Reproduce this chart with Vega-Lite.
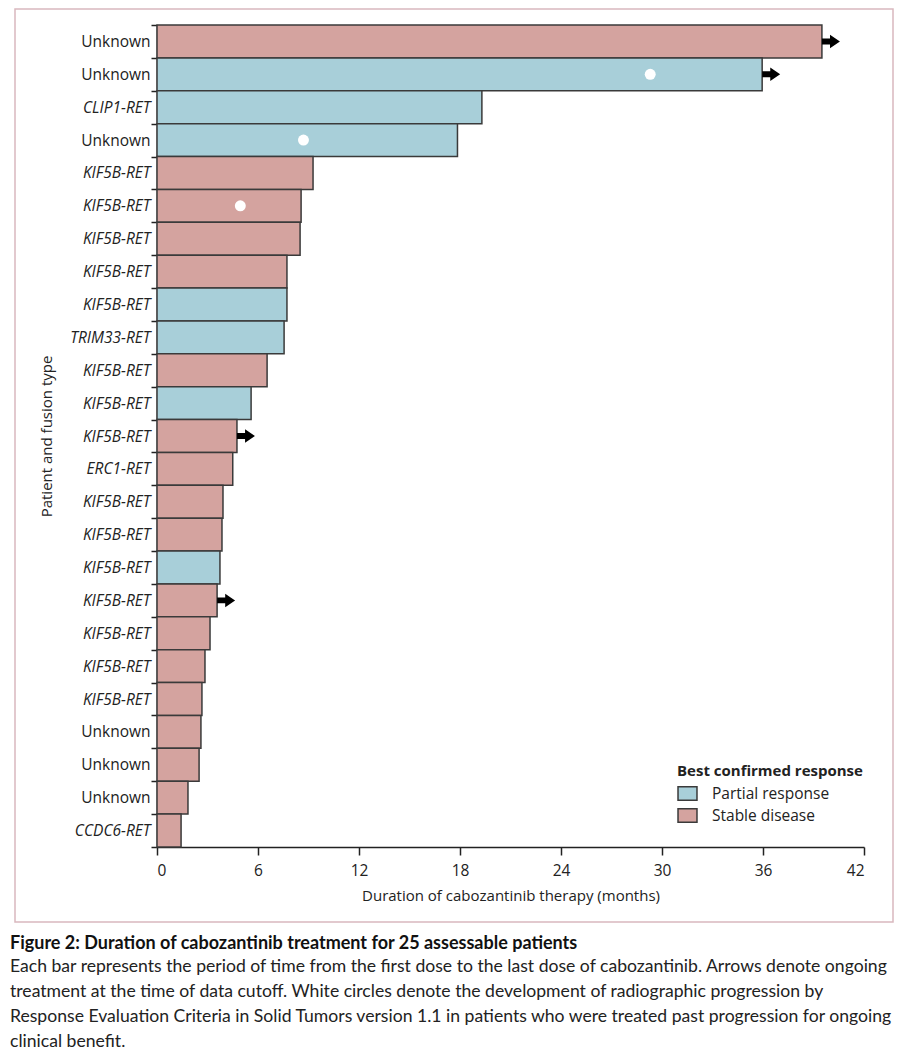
{
  "$schema": "https://vega.github.io/schema/vega-lite/v6.json",
  "width": 878,
  "height": 913,
  "autosize": {"type": "none"},
  "padding": {"left": 15, "top": 9, "right": 11, "bottom": 141},
  "background": "white",
  "config": {
    "view": {"stroke": "#d9b8be", "strokeWidth": 1.5},
    "font": "Open Sans"
  },
  "title": {
    "text": "Figure 2: Duration of cabozantinib treatment for 25 assessable patients",
    "orient": "bottom",
    "anchor": "start",
    "frame": "bounds",
    "offset": 13,
    "dx": -5,
    "font": "Lato",
    "fontSize": 18,
    "fontWeight": "bold",
    "color": "#111111",
    "subtitle": [
      "Each bar represents the period of time from the first dose to the last dose of cabozantinib. Arrows denote ongoing",
      "treatment at the time of data cutoff. White circles denote the development of radiographic progression by",
      "Response Evaluation Criteria in Solid Tumors version 1.1 in patients who were treated past progression for ongoing",
      "clinical benefit."
    ],
    "subtitleFont": "Lato",
    "subtitleFontSize": 17.6,
    "subtitleColor": "#222222",
    "subtitleLineHeight": 25,
    "subtitlePadding": 5
  },
  "data": {
    "values": [
      {"id": 1, "label": "Unknown", "months": 39.5, "response": "Stable disease", "ongoing": true, "prog": null},
      {"id": 2, "label": "Unknown", "months": 35.95, "response": "Partial response", "ongoing": true, "prog": 29.3},
      {"id": 3, "label": "CLIP1-RET", "months": 19.3, "response": "Partial response", "ongoing": false, "prog": null},
      {"id": 4, "label": "Unknown", "months": 17.85, "response": "Partial response", "ongoing": false, "prog": 8.7},
      {"id": 5, "label": "KIF5B-RET", "months": 9.27, "response": "Stable disease", "ongoing": false, "prog": null},
      {"id": 6, "label": "KIF5B-RET", "months": 8.56, "response": "Stable disease", "ongoing": false, "prog": 4.95},
      {"id": 7, "label": "KIF5B-RET", "months": 8.5, "response": "Stable disease", "ongoing": false, "prog": null},
      {"id": 8, "label": "KIF5B-RET", "months": 7.72, "response": "Stable disease", "ongoing": false, "prog": null},
      {"id": 9, "label": "KIF5B-RET", "months": 7.72, "response": "Partial response", "ongoing": false, "prog": null},
      {"id": 10, "label": "TRIM33-RET", "months": 7.55, "response": "Partial response", "ongoing": false, "prog": null},
      {"id": 11, "label": "KIF5B-RET", "months": 6.54, "response": "Stable disease", "ongoing": false, "prog": null},
      {"id": 12, "label": "KIF5B-RET", "months": 5.59, "response": "Partial response", "ongoing": false, "prog": null},
      {"id": 13, "label": "KIF5B-RET", "months": 4.75, "response": "Stable disease", "ongoing": true, "prog": null},
      {"id": 14, "label": "ERC1-RET", "months": 4.5, "response": "Stable disease", "ongoing": false, "prog": null},
      {"id": 15, "label": "KIF5B-RET", "months": 3.92, "response": "Stable disease", "ongoing": false, "prog": null},
      {"id": 16, "label": "KIF5B-RET", "months": 3.86, "response": "Stable disease", "ongoing": false, "prog": null},
      {"id": 17, "label": "KIF5B-RET", "months": 3.74, "response": "Partial response", "ongoing": false, "prog": null},
      {"id": 18, "label": "KIF5B-RET", "months": 3.57, "response": "Stable disease", "ongoing": true, "prog": null},
      {"id": 19, "label": "KIF5B-RET", "months": 3.15, "response": "Stable disease", "ongoing": false, "prog": null},
      {"id": 20, "label": "KIF5B-RET", "months": 2.85, "response": "Stable disease", "ongoing": false, "prog": null},
      {"id": 21, "label": "KIF5B-RET", "months": 2.67, "response": "Stable disease", "ongoing": false, "prog": null},
      {"id": 22, "label": "Unknown", "months": 2.61, "response": "Stable disease", "ongoing": false, "prog": null},
      {"id": 23, "label": "Unknown", "months": 2.5, "response": "Stable disease", "ongoing": false, "prog": null},
      {"id": 24, "label": "Unknown", "months": 1.84, "response": "Stable disease", "ongoing": false, "prog": null},
      {"id": 25, "label": "CCDC6-RET", "months": 1.43, "response": "Stable disease", "ongoing": false, "prog": null}
    ]
  },
  "layer": [
    {
      "mark": {"type": "bar", "stroke": "#3a3a3a", "strokeWidth": 1.5, "opacity": 1},
      "encoding": {
        "y": {
          "field": "id",
          "type": "ordinal",
          "scale": {"range": [16, 838], "paddingInner": 0, "paddingOuter": 0},
          "axis": {
            "title": "Patient and fusion type",
            "offset": -142,
            "tickBand": "extent",
            "tickSize": 6,
            "tickWidth": 1.5,
            "tickColor": "#222222",
            "domainColor": "#222222",
            "domainWidth": 1.5,
            "labelPadding": 1,
            "labelFont": "Open Sans",
            "labelFontSize": 15.5,
            "labelColor": "#222222",
            "labelExpr": "['Unknown','Unknown','CLIP1-RET','Unknown','KIF5B-RET','KIF5B-RET','KIF5B-RET','KIF5B-RET','KIF5B-RET','TRIM33-RET','KIF5B-RET','KIF5B-RET','KIF5B-RET','ERC1-RET','KIF5B-RET','KIF5B-RET','KIF5B-RET','KIF5B-RET','KIF5B-RET','KIF5B-RET','KIF5B-RET','Unknown','Unknown','Unknown','CCDC6-RET'][datum.value - 1]",
            "labelFontStyle": {"condition": {"test": "indexof([1,2,4,22,23,24], +datum.value) >= 0", "value": "normal"}, "value": "italic"},
            "titleFont": "Open Sans",
            "titleFontSize": 15,
            "titleFontWeight": "normal",
            "titleColor": "#222222",
            "titlePadding": 15
          }
        },
        "x": {
          "field": "months",
          "type": "quantitative",
          "scale": {"domain": [0, 42], "range": [142, 849], "nice": false},
          "axis": {
            "title": "Duration of cabozantinib therapy (months)",
            "values": [0, 6, 12, 18, 24, 30, 36, 42],
            "offset": -75,
            "grid": false,
            "tickSize": 8,
            "tickWidth": 1.5,
            "tickColor": "#222222",
            "domainColor": "#222222",
            "domainWidth": 1.5,
            "labelFont": "Open Sans",
            "labelFontSize": 15.5,
            "labelColor": "#222222",
            "labelPadding": 8,
            "titleFont": "Open Sans",
            "titleFontSize": 15,
            "titleFontWeight": "normal",
            "titleColor": "#222222",
            "titlePadding": 10
          }
        },
        "color": {
          "field": "response",
          "type": "nominal",
          "scale": {"domain": ["Partial response", "Stable disease"], "range": ["#a8cfd9", "#d4a39f"]},
          "legend": {
            "orient": "none",
            "legendX": 662,
            "legendY": 755,
            "title": "Best confirmed response",
            "titleLimit": 400,
            "titleFont": "Open Sans",
            "titleFontSize": 15,
            "titleFontWeight": "bold",
            "titleColor": "#222222",
            "titlePadding": 4,
            "labelFont": "Open Sans",
            "labelFontSize": 15.5,
            "labelColor": "#222222",
            "labelOffset": 14,
            "labelLimit": 300,
            "symbolType": "M-1,-0.7L1,-0.7L1,0.7L-1,0.7Z",
            "symbolSize": 360,
            "symbolStrokeColor": "#3a3a3a",
            "symbolStrokeWidth": 1.5,
            "symbolOpacity": 1,
            "rowPadding": 1
          }
        }
      }
    },
    {
      "transform": [{"filter": "datum.ongoing"}],
      "mark": {"type": "point", "filled": true, "fill": "#000000", "stroke": null, "opacity": 1, "shape": "M0,-0.33L0.9,-0.33L0.9,-0.75L2,0L0.9,0.75L0.9,0.33L0,0.33Z", "size": 324},
      "encoding": {
        "y": {"field": "id", "type": "ordinal"},
        "x": {"field": "months", "type": "quantitative", "title": "Duration of cabozantinib therapy (months)"}
      }
    },
    {
      "transform": [{"filter": "isValid(datum.prog)"}],
      "mark": {"type": "point", "filled": true, "fill": "#ffffff", "stroke": null, "opacity": 1, "shape": "circle", "size": 120},
      "encoding": {
        "y": {"field": "id", "type": "ordinal"},
        "x": {"field": "prog", "type": "quantitative", "title": "Duration of cabozantinib therapy (months)"}
      }
    }
  ]
}
